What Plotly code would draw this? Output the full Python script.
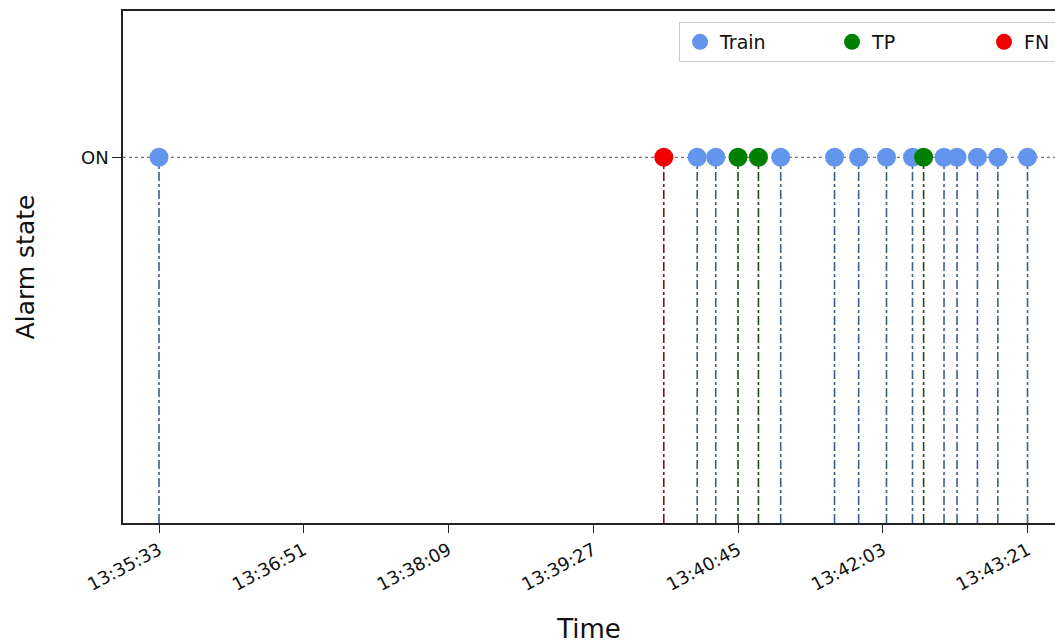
import pandas as pd
import plotly.graph_objects as go

# Alarm events (time of day) grouped by outcome
DAY = "2019-01-01 "
train_times = ["13:35:33", "13:40:23", "13:40:33", "13:41:08", "13:41:37", "13:41:50",
               "13:42:05", "13:42:19", "13:42:36", "13:42:43", "13:42:54", "13:43:05",
               "13:43:21"]
tp_times = ["13:40:45", "13:40:56", "13:42:25"]
fn_times = ["13:40:05"]

tick_times = ["13:35:33", "13:36:51", "13:38:09", "13:39:27", "13:40:45", "13:42:03", "13:43:21"]
x_range = ["13:35:13.6", "13:43:35.8"]
ON_LEVEL = 1
y_range = [0, 1.4]

series = [
    ("Train", train_times, "#6495ED", "#3f5f8c"),
    ("TP", tp_times, "#007f00", "#1f4a1f"),
    ("FN", fn_times, "#f00000", "#6e1c1c"),
]


def ts(t):
    return pd.Timestamp(DAY + t)


fig = go.Figure()

# stems from the axis up to the ON level
for name, times, mcolor, scolor in series:
    xs, ys = [], []
    for t in times:
        xs += [ts(t), ts(t), None]
        ys += [y_range[0], ON_LEVEL, None]
    fig.add_trace(go.Scatter(x=xs, y=ys, mode="lines", showlegend=False, hoverinfo="skip",
                             line=dict(color=scolor, width=1.6, dash="dashdot")))

# event markers
for name, times, mcolor, scolor in series:
    fig.add_trace(go.Scatter(x=[ts(t) for t in times], y=[ON_LEVEL] * len(times),
                             mode="markers", name=name,
                             marker=dict(color=mcolor, size=19, line=dict(width=0))))

# dotted reference line at the ON level
fig.add_shape(type="line", xref="paper", x0=0, x1=1, yref="y", y0=ON_LEVEL, y1=ON_LEVEL,
              line=dict(color="#555555", width=1, dash="dot"), layer="below")

fig.update_layout(
    width=1055, height=644,
    margin=dict(l=123, r=0, t=11, b=121, autoexpand=False),
    paper_bgcolor="white", plot_bgcolor="white",
    font=dict(family="DejaVu Sans", size=18, color="#111111"),
    legend=dict(orientation="h", x=0.5966, xanchor="left", y=0.9785, yanchor="top",
                bgcolor="white", bordercolor="#cccccc", borderwidth=1,
                font=dict(size=19), entrywidth=107),
    xaxis=dict(
        range=[ts(x_range[0]), ts(x_range[1])],
        tickmode="array", tickvals=[ts(t) for t in tick_times],
        tickformat="%H:%M:%S", tickangle=-28,
        ticks="outside", ticklen=8, tickcolor="#222222",
        showline=True, linecolor="#222222", linewidth=1.5, mirror=True,
        showgrid=False, zeroline=False,
        title=dict(text="Time", font=dict(size=26), standoff=26),
        tickfont=dict(size=18), automargin=False,
    ),
    yaxis=dict(
        range=y_range,
        tickmode="array", tickvals=[ON_LEVEL], ticktext=["ON"],
        ticks="outside", ticklen=9, tickcolor="#222222",
        showline=True, linecolor="#222222", linewidth=1.5, mirror=False,
        showgrid=False, zeroline=False,
        title=dict(text="Alarm state", font=dict(size=25), standoff=39),
        tickfont=dict(size=18), automargin=False,
    ),
)

fig.write_html("out.html")
